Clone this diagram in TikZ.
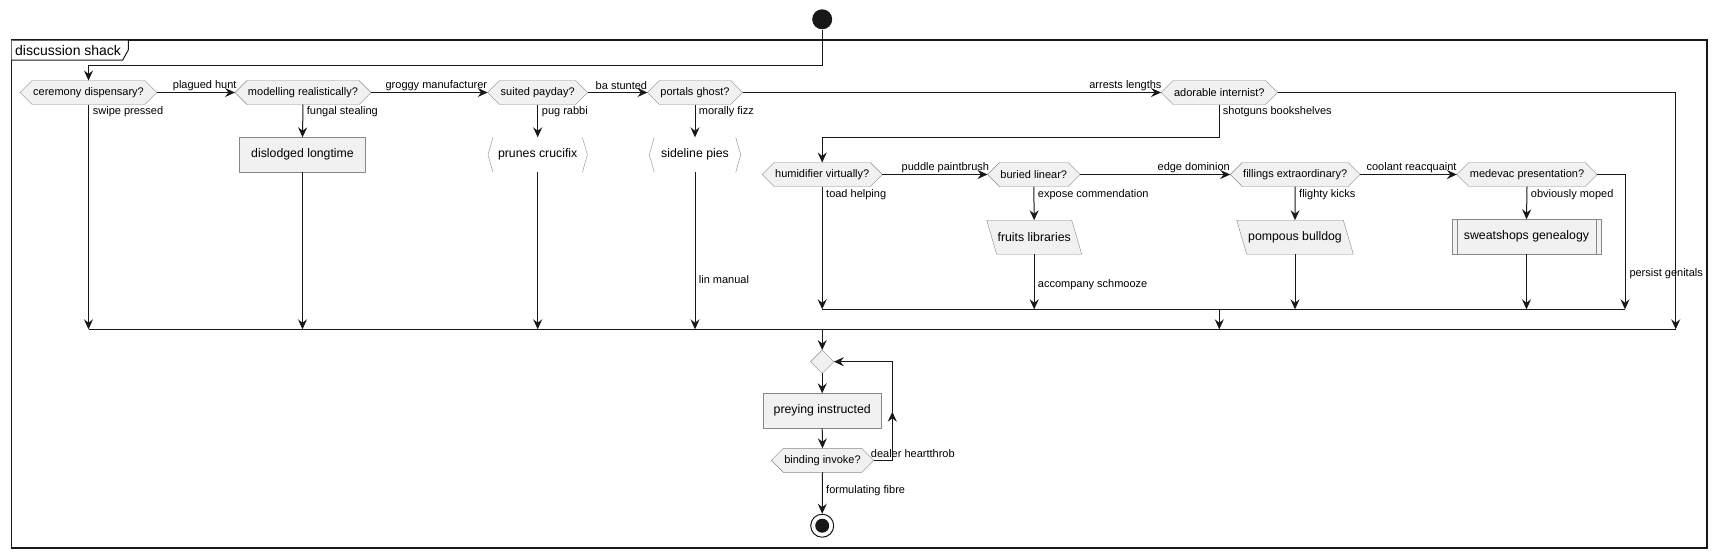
\documentclass[tikz,border=0pt]{standalone}
\usepackage{fontspec}
\setmainfont{Liberation Sans}
\usetikzlibrary{arrows.meta,shapes.symbols,shapes.geometric,backgrounds}
\definecolor{ink}{HTML}{181818}
\definecolor{boxfill}{HTML}{F1F1F1}
\definecolor{boxline}{HTML}{888888}

\begin{document}
\begin{tikzpicture}[x=1pt,y=1pt,yscale=-1,
  flow/.style={draw=ink,line width=1pt,-{Stealth[length=10pt,width=9pt,inset=3.5pt]}},
  wire/.style={draw=ink,line width=1pt},
  ask/.style={signal,signal to=west and east,signal pointer angle=90,draw=boxline,fill=boxfill,
    minimum height=24pt,inner xsep=1pt,inner ysep=0pt,outer sep=0pt,font=\fontsize{11}{13}\selectfont},
  act/.style={rectangle,draw=boxline,fill=boxfill,minimum height=35pt,outer sep=0pt,
    font=\fontsize{12.3}{14}\selectfont},
  flat/.style={rectangle,minimum height=35pt,outer sep=0pt,font=\fontsize{12.3}{14}\selectfont},
  lbl/.style={inner sep=0pt,anchor=west,font=\fontsize{11}{13}\selectfont},
  lblin/.style={inner sep=0pt,anchor=east,font=\fontsize{11}{13}\selectfont}]
\useasboundingbox (0,0) rectangle (1717,558);

%Frame
\draw [ink,line width=1.3pt] (11.5,40) rectangle (1707,548);
\draw [ink,line width=1pt,fill=white] (11.5,40) -- (128.3,40) -- (128.3,50) -- (122.7,60) -- (11.5,60);
\node [inner sep=0pt,anchor=west,font=\fontsize{14}{16}\selectfont] (title) at (15,50) {discussion shack};

% Start
\node [circle,fill=ink,minimum size=20pt,inner sep=0pt] (start) at (822.2,19.3) {};

% Row one
\node [ask] (cer) at (88.5,92.5) {ceremony dispensary?};
\node [ask] (mod) at (303,92.5) {modelling realistically?};
\node [ask] (sui) at (537.7,92.5) {suited payday?};
\node [ask] (por) at (695,92.5) {portals ghost?};
\node [ask] (ado) at (1219.3,92.5) {adorable internist?};

% Row two
\node [act,minimum width=126pt] (dis) at (302.5,154.8) {dislodged longtime};
\node [flat,minimum width=89.4pt] (pru) at (537.7,154.8) {prunes crucifix};
\node [flat,minimum width=81.4pt] (sid) at (695,154.8) {sideline pies};
\node [ask] (hum) at (822.2,174.5) {humidifier virtually?};
\node [ask] (bur) at (1033.8,174.5) {buried linear?};
\node [ask] (fil) at (1295.2,174.5) {fillings extraordinary?};
\node [ask] (med) at (1527,174.5) {medevac presentation?};

% Row three
\node [flat,minimum width=85pt,minimum height=34pt] (fru) at (1034.2,237.2) {fruits libraries};
\node [flat,minimum width=106.6pt,minimum height=34pt] (pom) at (1295,237.2) {pompous bulldog};
\node [act,minimum width=148.4pt] (swe) at (1526.5,236.8) {sweatshops genealogy};

% Repeat part
\node [diamond,draw=boxline,fill=boxfill,minimum width=23.3pt,minimum height=23.3pt,inner sep=0pt,outer sep=0pt] (rep) at (822.2,361.7) {};
\node [act,minimum width=117.4pt] (pre) at (822.2,410.8) {preying instructed};
\node [ask] (bin) at (822.5,460.3) {binding invoke?};
\node [circle,draw=ink,line width=1pt,minimum size=23pt,inner sep=0pt] (stop) at (822.2,525.7) {};
\node [circle,fill=ink,minimum size=14pt,inner sep=0pt] (stopdot) at (stop) {};

% Brackets, slanted boxes, side bars
\foreach \n in {pru,sid} {
  \draw [boxline] (\n.north west) -- ([xshift=-5pt]\n.west) -- (\n.south west);
  \draw [boxline] (\n.north east) -- ([xshift=5pt]\n.east) -- (\n.south east);
}
\begin{scope}[on background layer]
\foreach \n in {fru,pom}
  \draw [boxline,fill=boxfill] ([xshift=-5pt]\n.north west) -- ([xshift=-5pt]\n.north east)
    -- ([xshift=5pt]\n.south east) -- ([xshift=5pt]\n.south west) -- cycle;
\end{scope}
\draw [boxline] ([xshift=5pt]swe.north west) -- ([xshift=5pt]swe.south west);
\draw [boxline] ([xshift=-5pt]swe.north east) -- ([xshift=-5pt]swe.south east);

% Bends and merges
\coordinate (j0) at (822.2,65);
\coordinate (j1) at (822.2,137.3);
\coordinate (j2) at (892.3,411.7);
\coordinate (m1a) at (88.5,329.3);
\coordinate (m1b) at (1675.7,329.3);
\coordinate (m1c) at (822.2,329.3);
\coordinate (m2a) at (822.2,309.3);
\coordinate (m2b) at (1625,309.3);
\coordinate (m2c) at (1219.3,309.3);

%Straight Lines
\draw [flow] (start.south) -- (j0) -| (cer.north);
\draw [flow] (cer.east) -- (mod.west);
\draw [flow] (mod.east) -- (sui.west);
\draw [flow] (sui.east) -- (por.west);
\draw [flow] (por.east) -- (ado.west);
\draw [flow] (ado.east) -| (m1b);
\draw [flow] (cer.south) -- (cer.south |- m1a);
\draw [flow] (mod.south) -- (dis.north);
\draw [flow] (dis.south) -- (dis.south |- m1a);
\draw [flow] (sui.south) -- (pru.north);
\draw [flow] (pru.south) -- (pru.south |- m1a);
\draw [flow] (por.south) -- (sid.north);
\draw [flow] (sid.south) -- (sid.south |- m1a);
\draw [flow] (ado.south) |- (j1) -- (hum.north);

%Straight Lines
\draw [flow] (hum.east) -- (bur.west);
\draw [flow] (bur.east) -- (fil.west);
\draw [flow] (fil.east) -- (med.west);
\draw [flow] (med.east) -| (m2b);
\draw [flow] (hum.south) -- (m2a);
\draw [flow] (bur.south) -- (fru.north);
\draw [flow] (fru.south) -- (fru.south |- m2a);
\draw [flow] (fil.south) -- (pom.north);
\draw [flow] (pom.south) -- (pom.south |- m2a);
\draw [flow] (med.south) -- (swe.north);
\draw [flow] (swe.south) -- (swe.south |- m2a);
\draw [wire] (m2a) -- (m2b);
\draw [flow] (m2c) -- (m2c |- m1a);
\draw [wire] (m1a) -- (m1b);

%Straight Lines
\draw [flow] (m1c) -- (rep.north);
\draw [flow] (rep.south) -- (pre.north);
\draw [flow] (pre.south) -- (bin.north);
\draw [flow] (bin.east) -| (j2);
\draw [flow] (j2) |- (rep.east);
\draw [flow] (bin.south) -- (stop.north);

% Text Node
\node [lblin] at (236.7,86) {plagued hunt};
\node [lblin] at (487.3,86) {groggy manufacturer};
\node [lblin] at (647.3,86) {ba stunted};
\node [lblin] at (1161.7,86) {arrests lengths};
\node [lblin] at (989.3,167.7) {puddle paintbrush};
\node [lblin] at (1230,167.7) {edge dominion};
\node [lblin] at (1456.7,167.7) {coolant reacquaint};
% Text Node
\node [lbl] at (92.7,112) {swipe pressed};
\node [lbl] at (306.7,112) {fungal stealing};
\node [lbl] at (541.7,112) {pug rabbi};
\node [lbl] at (698.7,112) {morally fizz};
\node [lbl] at (1222.7,112) {shotguns bookshelves};
\node [lbl] at (698.7,280) {lin manual};
\node [lbl] at (826,194.3) {toad helping};
\node [lbl] at (1037.7,194.3) {expose commendation};
\node [lbl] at (1299,194.3) {flighty kicks};
\node [lbl] at (1530.7,194.3) {obviously moped};
\node [lbl] at (1037.7,284.3) {accompany schmooze};
\node [lbl] at (1629.3,273.3) {persist genitals};
\node [lbl] at (870.7,454) {dealer heartthrob};
\node [lbl] at (826,491) {formulating fibre};

\end{tikzpicture}
\end{document}
